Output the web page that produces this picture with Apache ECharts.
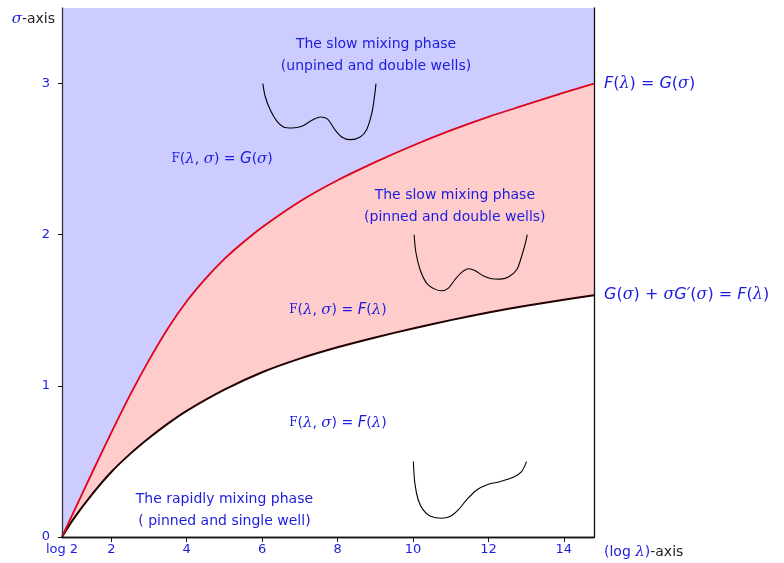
<!DOCTYPE html>
<html>
<head>
<meta charset="utf-8">
<script src="https://cdn.jsdelivr.net/npm/echarts@6/dist/echarts.min.js"></script>
<style>
  html, body { margin: 0; padding: 0; background: #fff; }
  #main { width: 784px; height: 563px; }
</style>
</head>
<body>
<div id="main"></div>
<script>
// boundary curves, [log lambda, sigma]
var redCurve = [
    [0.6931, 0], [1.0, 0.165], [1.5, 0.43], [2.0, 0.69], [2.5, 0.94], [3.0, 1.17],
    [3.5, 1.38], [4.0, 1.56], [4.5, 1.71], [5.0, 1.84], [5.5, 1.95], [6.0, 2.05],
    [7.0, 2.22], [8.0, 2.36], [9.0, 2.48], [10.0, 2.59], [11.0, 2.69], [12.0, 2.78],
    [13.0, 2.86], [14.0, 2.94], [14.8, 3.0]
];
var blackCurve = [
    [0.6931, 0], [1.0, 0.12], [1.5, 0.285], [2.0, 0.43], [2.5, 0.55], [3.0, 0.655],
    [3.5, 0.75], [4.0, 0.835], [5.0, 0.975], [6.0, 1.09], [7.0, 1.18], [8.0, 1.255],
    [9.0, 1.32], [10.0, 1.38], [11.0, 1.435], [12.0, 1.485], [13.0, 1.53], [14.0, 1.57],
    [14.8, 1.6]
];
// sketched potentials
var wellUnpinned = [
    [6.02, 3.0], [6.08, 2.916], [6.21, 2.828], [6.39, 2.751], [6.565, 2.713], [6.79, 2.706],
    [7.05, 2.717], [7.32, 2.757], [7.54, 2.779], [7.73, 2.766], [7.93, 2.695], [8.11, 2.647],
    [8.33, 2.629], [8.6, 2.647], [8.77, 2.695], [8.91, 2.806], [8.98, 2.916], [9.02, 3.0]
];
var wellPinnedDouble = [
    [10.03, 2.0], [10.08, 1.879], [10.19, 1.768], [10.36, 1.68], [10.58, 1.64], [10.76, 1.629],
    [10.94, 1.647], [11.11, 1.702], [11.29, 1.751], [11.47, 1.775], [11.64, 1.764], [11.86, 1.728],
    [12.08, 1.709], [12.3, 1.706], [12.53, 1.72], [12.75, 1.768], [12.88, 1.856], [12.97, 1.934],
    [13.03, 2.0]
];
var wellSingle = [
    [10.01, 0.499], [10.05, 0.355], [10.14, 0.245], [10.27, 0.179], [10.45, 0.139], [10.76, 0.124],
    [10.98, 0.135], [11.2, 0.179], [11.42, 0.245], [11.69, 0.311], [12.0, 0.349], [12.3, 0.366],
    [12.66, 0.395], [12.88, 0.433], [13.01, 0.499]
];
// annotations [x, sigma, text]
var notes = [
    [9.02, 3.185, 'The slow mixing phase\n(unpined and double wells)'],
    [11.11, 2.185, 'The slow mixing phase\n(pinned and double wells)'],
    [5.0, 0.179, 'The rapidly mixing phase\n( pinned and single well)'],
    [4.94, 2.5, '{r|F}({m|λ}, {m|σ}) = {i|G}({m|σ})'],
    [8.01, 1.5, '{r|F}({m|λ}, {m|σ}) = {i|F}({m|λ})'],
    [8.01, 0.755, '{r|F}({m|λ}, {m|σ}) = {i|F}({m|λ})']
];
var xTickValues = [2, 4, 6, 8, 10, 12, 14];
var xLabelValues = [0.6931, 2, 4, 6, 8, 10, 12, 14];
var yLabelValues = [0, 1, 2, 3];

var blue = '#1c1ce0';
var mathRich = {
    r: { fontFamily: 'DejaVu Serif', fontSize: 12, color: blue },
    m: { fontFamily: 'DejaVu Serif', fontStyle: 'italic', fontSize: 15, color: blue },
    i: { fontFamily: 'DejaVu Sans', fontStyle: 'italic', fontSize: 15, color: blue }
};
var endRich = {
    m: { fontFamily: 'DejaVu Serif', fontStyle: 'italic', fontSize: 16, color: blue },
    i: { fontFamily: 'DejaVu Sans', fontStyle: 'italic', fontSize: 16, color: blue }
};

var myChart = echarts.init(document.getElementById('main'));
var option = {
    animation: false,
    textStyle: { fontFamily: 'DejaVu Sans' },
    grid: { left: 62, right: 190, top: 8, bottom: 26 },
    xAxis: [
        {
            type: 'value', min: 0.6931, max: 14.8, z: 10,
            name: '{b|(log }{m|λ}{b|)}-axis',
            nameLocation: 'end', nameGap: 10,
            nameTextStyle: {
                align: 'left', verticalAlign: 'top', padding: [8, 0, 0, 0],
                fontSize: 14, color: '#222',
                rich: { b: { color: blue, fontSize: 14 }, m: mathRich.m }
            },
            axisLine: { lineStyle: { color: '#111', width: 1.3 } },
            axisTick: { customValues: xTickValues, length: 5, lineStyle: { color: '#111' } },
            axisLabel: {
                customValues: xLabelValues, margin: 6, color: blue, fontSize: 13,
                formatter: function (v) { return v < 1 ? 'log 2' : v; }
            },
            splitLine: { show: false }
        },
        {
            type: 'value', min: 0.6931, max: 14.8, position: 'top', z: 10,
            axisLine: { lineStyle: { color: '#111', width: 1.3 } },
            axisTick: { show: false }, axisLabel: { show: false }, splitLine: { show: false }
        }
    ],
    yAxis: [
        {
            type: 'value', min: 0, max: 3.5, z: 10,
            name: '{m|σ}-axis',
            nameLocation: 'end', nameGap: -11,
            nameTextStyle: {
                align: 'right', verticalAlign: 'middle', padding: [0, 7, 0, 0],
                fontSize: 14, color: '#222', rich: { m: mathRich.m }
            },
            axisLine: { lineStyle: { color: '#333', width: 1.3 } },
            axisTick: { customValues: yLabelValues, length: 4, lineStyle: { color: '#111' } },
            axisLabel: { customValues: yLabelValues, margin: 12, color: blue, fontSize: 13 },
            splitLine: { show: false }
        },
        {
            type: 'value', min: 0, max: 3.5, position: 'right', z: 10,
            axisLine: { lineStyle: { color: '#111', width: 1.3 } },
            axisTick: { show: false }, axisLabel: { show: false }, splitLine: { show: false }
        }
    ],
    series: [
        {   // pink band under the red curve
            type: 'line', data: redCurve, smooth: 0.3, symbol: 'none',
            lineStyle: { width: 0 }, areaStyle: { color: '#ffcccc', opacity: 1, origin: 'start' }, z: 1
        },
        {   // blue region above the red curve
            type: 'line', data: redCurve, smooth: 0.3, symbol: 'none',
            lineStyle: { width: 0 }, areaStyle: { color: '#ccccff', opacity: 1, origin: 'end' }, z: 1
        },
        {   // white below the black curve
            type: 'line', data: blackCurve, smooth: 0.3, symbol: 'none',
            lineStyle: { color: '#200000', width: 2 },
            areaStyle: { color: '#ffffff', opacity: 1, origin: 'start' }, z: 3,
            endLabel: {
                show: true, distance: 10, fontSize: 16, color: blue,
                formatter: '{i|G}({m|σ}) + {m|σ}{i|G′}({m|σ}) = {i|F}({m|λ})', rich: endRich
            }
        },
        {
            type: 'line', data: redCurve, smooth: 0.3, symbol: 'none',
            lineStyle: { color: '#e0001c', width: 1.8 }, z: 4,
            endLabel: {
                show: true, distance: 10, fontSize: 16, color: blue,
                formatter: '{i|F}({m|λ}) = {i|G}({m|σ})', rich: endRich
            }
        },
        {
            type: 'line', data: wellUnpinned, smooth: 0.3, symbol: 'none',
            lineStyle: { color: '#000', width: 1.1 }, z: 5
        },
        {
            type: 'line', data: wellPinnedDouble, smooth: 0.3, symbol: 'none',
            lineStyle: { color: '#000', width: 1.1 }, z: 5
        },
        {
            type: 'line', data: wellSingle, smooth: 0.3, symbol: 'none',
            lineStyle: { color: '#000', width: 1.1 }, z: 5
        },
        {
            type: 'scatter', data: notes, symbolSize: 0, z: 6,
            itemStyle: { opacity: 1 },
            label: {
                show: true, position: 'inside', color: blue, fontSize: 14, lineHeight: 22,
                align: 'center', verticalAlign: 'middle',
                formatter: function (p) { return p.data[2]; },
                rich: mathRich
            }
        }
    ]
};
myChart.setOption(option);
</script>
</body>
</html>
